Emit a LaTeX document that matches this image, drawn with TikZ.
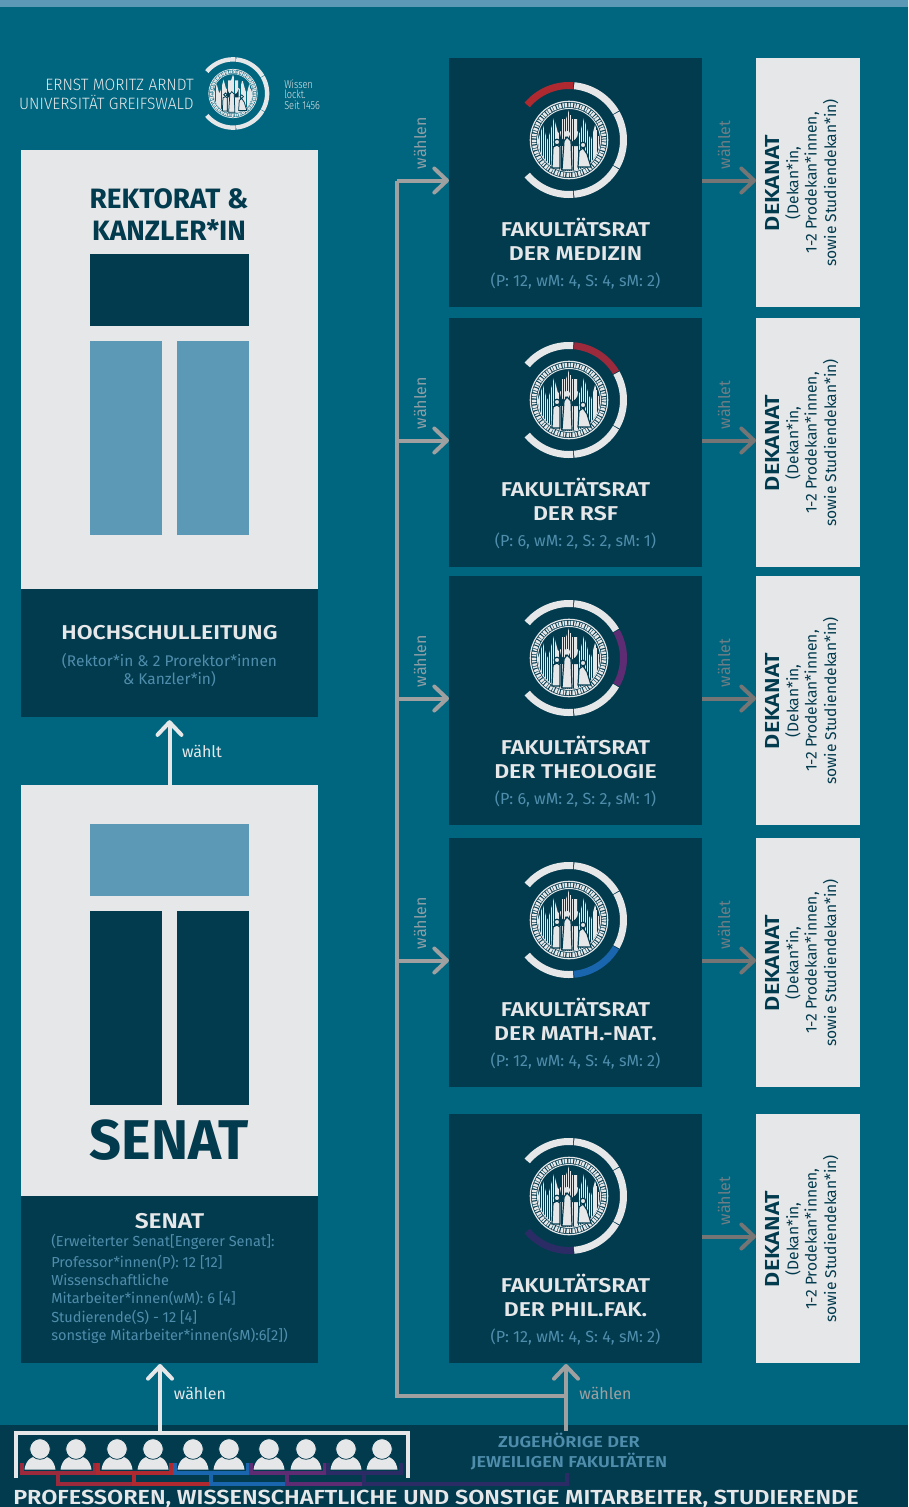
\documentclass[tikz,border=0pt]{standalone}
\usepackage{fontspec}
\setmainfont{Fira Sans}
\newfontfamily\logofont[FakeStretch=0.94]{Fira Sans Light}
\newfontfamily\logosmall[FakeStretch=0.8]{Fira Sans Light}
\newfontfamily\headfont[FakeStretch=1.15]{Fira Sans SemiBold}
\usetikzlibrary{positioning, calc, arrows.meta}

\definecolor{bgteal}{HTML}{00667F}
\definecolor{deepteal}{HTML}{023B4E}
\definecolor{paleblue}{HTML}{5B99B7}
\definecolor{textblue}{HTML}{4F8DAC}
\definecolor{lightgrey}{HTML}{E6E7E9}
\definecolor{flowgrey}{HTML}{A0A0A0}
\definecolor{votegrey}{HTML}{757575}
\definecolor{medred}{HTML}{AE2A30}
\definecolor{rsfred}{HTML}{9A2A3C}
\definecolor{theopurple}{HTML}{5E2C72}
\definecolor{mathblue}{HTML}{1A66AE}
\definecolor{philnavy}{HTML}{2B2C66}

\newcommand{\fs}[1]{\fontsize{#1}{#1}\selectfont}

% ring of five arcs round the seal: x, y, scale, coloured arc, its colour
\newcommand{\emblem}[5]{
  \begin{scope}[shift={(#1,#2)}, scale=#3]
    \foreach \sa/\sb [count=\n] in {140/85.6, 84.6/30.5, 29.5/-29.5, -30.5/-84.6, -85.6/-140}{
      \ifnum\n=#4 \def\ringcol{#5}\else \def\ringcol{lightgrey}\fi
      \draw[\ringcol, line width=#3*5.25pt] plot[domain=-\sa:-\sb, samples=24, smooth] (\x:54.5);
    }
    % seal
    \draw[lightgrey, line width=#3*0.9pt] (0,0) circle (38.7);
    \draw[lightgrey, line width=#3*3.4pt, dash pattern=on #3*1.1pt off #3*0.6pt on #3*1.8pt off #3*0.9pt] (0,0) circle (35);
    \draw[lightgrey, line width=#3*0.7pt] (0,0) circle (31.5);
    \begin{scope}
      \clip (0,0) circle (31);
      \clip (-31,31) -- (-31,0) -- (-26,-15) -- (-22,0) -- (-20,-4) -- (-15,-22) -- (-11,-7)
        -- (-8,-9) -- (-8,-21) -- (-3,-21) -- (0,-30) -- (3,-21) -- (8,-21) -- (8,-9) -- (11,-7)
        -- (15,-22) -- (20,-4) -- (22,0) -- (26,-15) -- (31,0) -- (31,31) -- cycle;
      \foreach \sx in {-31,-29.1,...,31}
        \draw[lightgrey, line width=#3*0.8pt] (\sx,-31) -- (\sx,31);
    \end{scope}
    % arch and the three figures
    \fill[deepteal] (-9,6) -- (-9,-7) arc[start angle=180, end angle=0, x radius=9, y radius=9] -- (9,6) -- cycle;
    \fill[lightgrey] (-2,-6) circle (3.2);
    \fill[lightgrey, draw=deepteal, line width=#3*0.9pt] (-7,30) -- (-5,1) -- (-2,-3) -- (2,1) -- (3,30) -- cycle;
    \fill[lightgrey, draw=deepteal, line width=#3*0.9pt] (-12,2) circle (2.8);
    \fill[lightgrey, draw=deepteal, line width=#3*0.9pt] (-17,28) -- (-16,7) -- (-12,5) -- (-9,7) -- (-9,28) -- cycle;
    \fill[lightgrey, draw=deepteal, line width=#3*0.9pt] (14,5) circle (2.8);
    \fill[lightgrey, draw=deepteal, line width=#3*0.9pt] (9,27) -- (10,11) -- (14,8) -- (18,14) -- (22,27) -- cycle;
  \end{scope}
}

\begin{document}
\begin{tikzpicture}[x=0.75pt, y=-0.75pt,
    panel/.style={fill=lightgrey, inner sep=0pt, minimum width=222.75pt},
    sheet/.style={fill=deepteal, inner sep=0pt},
    fakbox/.style={fill=deepteal, inner sep=0pt, minimum width=189.75pt, minimum height=186.75pt},
    dekbox/.style={fill=lightgrey, inner sep=0pt, minimum width=78pt, minimum height=186.75pt},
    heading/.style={anchor=base, inner sep=0pt, text=lightgrey, font=\headfont\fs{15pt}},
    seats/.style={inner sep=0pt, text=textblue, font=\fs{11.6pt}},
    vote/.style={inner sep=0pt, font=\fs{12pt}},
    dektext/.style={inner sep=0pt, rotate=90, align=center, text=deepteal, font=\fs{11.7pt}},
    tip/.style={-{Straight Barb[length=9.5pt, width=18pt, round]}},
    flow/.style={tip, flowgrey, line width=3pt},
    voteline/.style={tip, votegrey, line width=3pt},
    up/.style={tip, lightgrey, line width=3pt},
    tiny/.style={line width=2.3pt}
  ]
  \useasboundingbox (0,0) rectangle (908,1507);
  \fill[bgteal] (0,0) rectangle (908,1507);
  \fill[paleblue] (0,0) rectangle (908,7);
  \fill[deepteal] (0,1425) rectangle (908,1507);

  % logo
  \emblem{233}{93.5}{0.626}{0}{lightgrey}
  \node[anchor=east, inner sep=0pt, text=lightgrey, font=\logofont\fs{12.35pt}] (logoa) at (194,85) {ERNST MORITZ ARNDT};
  \node[anchor=east, inner sep=0pt, text=lightgrey, font=\logofont\fs{12.35pt}] (logob) at (194,102.5) {UNIVERSITÄT GREIFSWALD};
  \node[anchor=west, inner sep=0pt, text=lightgrey, font=\logosmall\fs{8.6pt}] (loga) at (284,84) {Wissen};
  \node[anchor=west, inner sep=0pt, text=lightgrey, font=\logosmall\fs{8.6pt}] (logc) at (284,94.5) {lockt.};
  \node[anchor=west, inner sep=0pt, text=lightgrey, font=\logosmall\fs{8.6pt}] (logd) at (284,105) {Seit 1456};

  % left column, top
  \node[panel, minimum height=329.25pt] (rektorat) at (169.5,369.5) {};
  \node[inner sep=0pt, align=center, text=deepteal, font=\bfseries\fs{21pt}] (rektext) at (169,214.5) {REKTORAT \&\\[3pt]KANZLER*IN};
  \fill[deepteal] (90,254) rectangle (249,326);
  \fill[paleblue] (90,341) rectangle (162,535);
  \fill[paleblue] (177,341) rectangle (249,535);
  \node[sheet, minimum width=222.75pt, minimum height=96pt] (hsl) at (169.5,653) {};
  \node[heading] (hsltitle) at (169.5,639) {HOCHSCHULLEITUNG};
  \node[seats, align=center] (hslseats) at (169.5,670) {(Rektor*in \& 2 Prorektor*innen\\[1.6pt]\& Kanzler*in)};

  % left column, bottom
  \node[panel, minimum height=308.25pt] (senat) at (169.5,990.5) {};
  \fill[paleblue] (90,824) rectangle (249,896);
  \fill[deepteal] (90,911) rectangle (162,1105);
  \fill[deepteal] (177,911) rectangle (249,1105);
  \node[inner sep=0pt, text=deepteal, font=\bfseries\fs{42pt}] (senattext) at (169.5,1140) {SENAT};
  \node[sheet, minimum width=222.75pt, minimum height=125.25pt] (sen) at (169.5,1279.5) {};
  \node[heading, font=\headfont\fs{16pt}] (sentitle) at (169.5,1228) {SENAT};
  \node[seats, anchor=north west, align=left, font=\fs{10.9pt}] (senseats) at (51,1234) {(Erweiterter Senat[Engerer Senat]:\\[2.9pt]Professor*innen(P): 12 [12]\\[2.9pt]Wissenschaftliche\\[2.9pt]Mitarbeiter*innen(wM): 6 [4]\\[2.9pt]Studierende(S) - 12 [4]\\[2.9pt]sonstige Mitarbeiter*innen(sM):6[2])};

  % faculties
  \foreach \id/\ytop/\name/\count/\seg/\col in {
      med/58/DER MEDIZIN/{(P: 12, wM: 4, S: 4, sM: 2)}/1/medred,
      rsf/318/DER RSF/{(P: 6, wM: 2, S: 2, sM: 1)}/2/rsfred,
      theo/576/DER THEOLOGIE/{(P: 6, wM: 2, S: 2, sM: 1)}/3/theopurple,
      math/838/DER MATH.-NAT./{(P: 12, wM: 4, S: 4, sM: 2)}/4/mathblue,
      phil/1114/DER PHIL.FAK./{(P: 12, wM: 4, S: 4, sM: 2)}/5/philnavy}{
    \node[fakbox, anchor=north west] (fak\id) at (449,\ytop) {};
    \node[dekbox, anchor=north west] (dek\id) at (756,\ytop) {};
    \emblem{569}{\ytop+82}{1}{\seg}{\col}
    \node[heading] (title\id) at (575.5,\ytop+178) {FAKULTÄTSRAT};
    \node[heading] (name\id) at (575.5,\ytop+202) {\name};
    \node[seats, font=\fs{12.1pt}] (count\id) at (575.5,\ytop+223) {\count};
    \node[dektext] (dektext\id) at (802,\ytop+125) {{\headfont\fs{15.2pt}DEKANAT}\\[2.4pt](Dekan*in,\\[2pt]1-2 Prodekan*innen,\\[1.7pt]sowie Studiendekan*in)};
    \coordinate (in\id) at (449,\ytop+122.5);
    \coordinate (out\id) at (702,\ytop+122.5);
    \coordinate (to\id) at (756,\ytop+122.5);
    \coordinate (tr\id) at (397,\ytop+122.5);
    \node[vote, rotate=90, text=votegrey!75!paleblue] (wt\id) at (724,\ytop+87) {wählet};
  }
  \foreach \id/\ytop in {med/58, rsf/318, theo/576, math/838}
    \node[vote, rotate=90, text=flowgrey!75!paleblue] (wl\id) at (420,\ytop+85) {wählen};

  % voting lines
  \coordinate (trbottom) at (397,1395.5);
  \coordinate (trend) at (566,1395.5);
  \coordinate (zugfoot) at (566,1431);
  \coordinate (zugtip) at (566,1364);
  \coordinate (senfoot) at (160,1433);
  \coordinate (sentip) at (160,1364);
  \draw[flowgrey, line width=3pt] (trmed) -- (trbottom) -- (trend);
  \draw[flow] (trmed) -- (inmed);
  \draw[flow] (trrsf) -- (inrsf);
  \draw[flow] (trtheo) -- (intheo);
  \draw[flow] (trmath) -- (inmath);
  \draw[flow] (zugfoot) -- (zugtip);
  \foreach \id in {med,rsf,theo,math,phil}
    \draw[voteline] (out\id) -- (to\id);
  \draw[up] (senat.north) -- ([yshift=-2.2pt]hsl.south);
  \draw[up] (senfoot) -- (sentip);
  \node[vote, text=lightgrey] (waehlt) at (202,751.5) {wählt};
  \node[vote, text=lightgrey] (waehlena) at (200,1393.5) {wählen};
  \node[vote, text=flowgrey] (waehlenb) at (605.5,1393.5) {wählen};

  % people and the brackets below them
  \draw[lightgrey, line width=3pt] (15.5,1478) -- (15.5,1432.5) -- (408,1432.5) -- (408,1478);
  \foreach \p in {40,76,117,153,193,229,269,306,346,382}{
    \begin{scope}[shift={(\p,0)}]
      \fill[lightgrey] (-15.5,1469.5) .. controls (-14,1460) and (-9,1456) .. (0,1456) .. controls (9,1456) and (14,1460) .. (15.5,1469.5) -- cycle;
      \fill[lightgrey, draw=deepteal, line width=0.6pt] (0,1449) circle (10.3);
    \end{scope}
  }
  \foreach \xa/\xb/\col in {22/95/rsfred, 98/171/medred, 175/248/mathblue, 251/325/theopurple, 328/401/philnavy}
    \draw[\col, tiny] (\xa,1463) -- (\xa,1473) -- (\xb,1473) -- (\xb,1463);
  \foreach \xa/\xb/\col in {58/134/rsfred, 134/211/medred, 211/287/mathblue, 287/364/theopurple, 364/567/philnavy}
    \draw[\col, tiny] (\xa,1473) -- (\xa,1484) -- (\xb,1484) -- (\xb,1473);
  \node[heading, text=textblue, font=\headfont\fs{11.8pt}] (zuga) at (569,1447) {ZUGEHÖRIGE DER};
  \node[heading, text=textblue, font=\headfont\fs{11.8pt}] (zugb) at (569,1467) {JEWEILIGEN FAKULTÄTEN};
  \node[heading, font=\headfont\fs{15.25pt}] (people) at (436,1504) {PROFESSOREN, WISSENSCHAFTLICHE UND SONSTIGE MITARBEITER, STUDIERENDE};
\end{tikzpicture}
\end{document}
